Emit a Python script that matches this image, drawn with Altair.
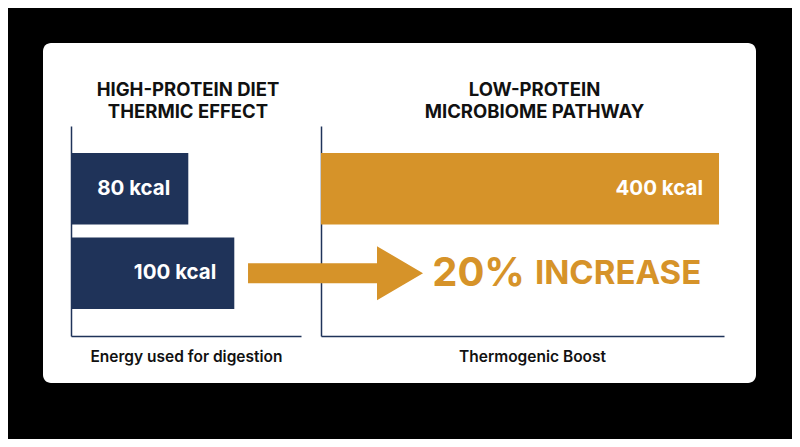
import altair as alt
import pandas as pd

# ---- data ----
left_labels = ["80 kcal", "100 kcal"]
left_values = [80, 100]
left_rows = ["r1", "r2"]

right_labels = ["400 kcal"]
right_values = [400]
right_rows = ["r1"]

panel_titles = [["HIGH-PROTEIN DIET", "THERMIC EFFECT"], ["LOW-PROTEIN", "MICROBIOME PATHWAY"]]
axis_titles = ["Energy used for digestion", "Thermogenic Boost"]
callout_number = ["20%"]
callout_word = ["INCREASE"]
callout_rows = ["r2"]

NAVY = "#1f3359"
ORANGE = "#d69329"
INK = "#111111"
FONT = "Inter"

left_df = pd.DataFrame({"label": left_labels, "value": left_values, "row": left_rows})
right_df = pd.DataFrame({"label": right_labels, "value": right_values, "row": right_rows})
num_df = pd.DataFrame({"text": callout_number, "row": callout_rows})
word_df = pd.DataFrame({"text": callout_word, "row": callout_rows})
arrow_df = pd.DataFrame({"row": callout_rows})

rows_domain = ["r1", "r2"]


def yscale():
    return alt.Scale(domain=rows_domain, range=[83, 293], paddingInner=0.154, paddingOuter=0.32)


def yaxis(offset, title, title_x):
    return alt.Axis(
        orient="left", offset=offset, domain=True, domainColor=NAVY, domainWidth=1.5,
        ticks=False, labels=False, grid=False, title=title, titleAngle=0,
        titleX=title_x, titleY=37, titleAlign="center", titleBaseline="top",
        titleFont=FONT, titleFontSize=18.5, titleFontWeight="bold", titleColor=INK,
        titleLineHeight=22,
    )


def xaxis(title, title_x=None):
    kw = dict(
        orient="bottom", offset=-47, domain=True, domainColor=NAVY, domainWidth=1.5,
        ticks=False, labels=False, grid=False, title=title, titleFont=FONT,
        titleFontSize=15.5, titleFontWeight=600, titleColor=INK, titlePadding=13,
    )
    if title_x is not None:
        kw["titleX"] = title_x
    return alt.Axis(**kw)


# ---- left panel ----
left_base = alt.Chart(left_df).encode(
    y=alt.Y("row:N", scale=yscale(), axis=yaxis(-28, panel_titles[0], 116.5)),
)
left_bars = left_base.mark_bar(color=NAVY).encode(
    x=alt.X("value:Q", scale=alt.Scale(domain=[29, 129], range=[28, 258], zero=False, nice=False),
            axis=xaxis(axis_titles[0])),
    x2=alt.datum(29),
)
left_text = left_base.mark_text(
    align="right", baseline="middle", dx=-18, color="white", font=FONT, fontSize=20.5, fontWeight="bold"
).encode(x=alt.X("value:Q"), text="label:N")
left = alt.layer(left_bars, left_text)

# ---- right panel ----
right_base = alt.Chart(right_df).encode(
    y=alt.Y("row:N", scale=yscale(), axis=yaxis(-278, panel_titles[1], 213)),
)
right_bars = right_base.mark_bar(color=ORANGE).encode(
    x=alt.X("value:Q", scale=alt.Scale(domain=[0, 405], range=[278, 681], nice=False),
            axis=xaxis(axis_titles[1], 489)),
)
right_text = right_base.mark_text(
    align="right", baseline="middle", dx=-16, color="white", font=FONT, fontSize=20.5, fontWeight="bold"
).encode(x=alt.X("value:Q"), text="label:N")

arrow_path = "M-1,-0.114L0.474,-0.114L0.474,-0.309L1,0L0.474,0.309L0.474,0.114L-1,0.114Z"
arrow = alt.Chart(arrow_df).mark_point(
    shape=arrow_path, size=30625, filled=True, color=ORANGE, opacity=1, strokeWidth=0
).encode(x=alt.datum(14.6), y=alt.Y("row:N"))

num = alt.Chart(num_df).mark_text(
    align="right", baseline="middle", dy=1, color=ORANGE, font=FONT, fontSize=40, fontWeight="bold"
).encode(x=alt.datum(205), y=alt.Y("row:N"), text="text:N")
word = alt.Chart(word_df).mark_text(
    align="left", baseline="middle", dy=1, color=ORANGE, font=FONT, fontSize=33, fontWeight="bold"
).encode(x=alt.datum(215), y=alt.Y("row:N"), text="text:N")

right = alt.layer(right_bars, right_text, arrow, num, word)

chart = (
    alt.layer(left, right)
    .resolve_scale(x="independent", y="independent")
    .properties(
        width=713, height=340, background="#000000",
        padding={"left": 35, "top": 35, "right": 36, "bottom": 56},
    )
    .configure_view(fill="white", cornerRadius=8, strokeWidth=0)
)

chart.save("out.html", embed_options={"renderer": "svg", "actions": False})
